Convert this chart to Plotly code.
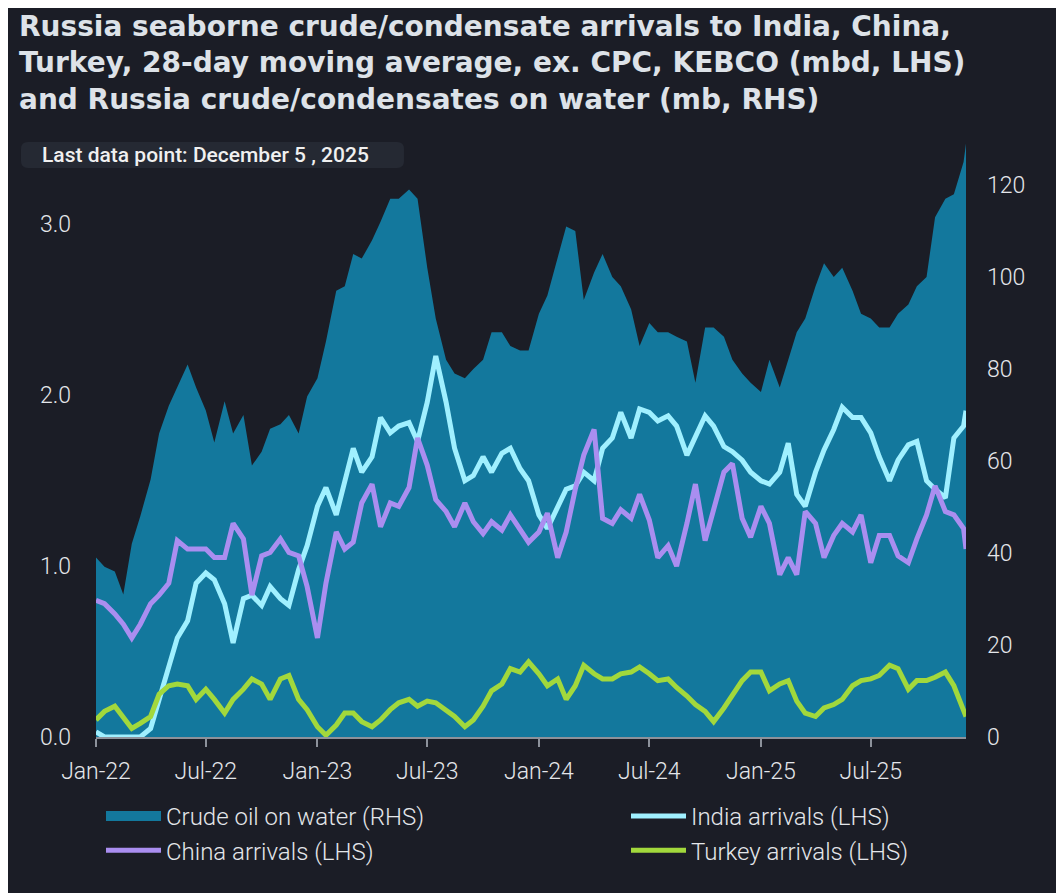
import pandas as pd
import plotly.graph_objects as go

# semi-monthly sampling (1st and 15th) up to the last data point
dates = list(pd.date_range("2022-01-01", "2025-12-01", freq="SMS").strftime("%Y-%m-%d")) + ["2025-12-05"]

# Russia crude/condensates on water, mb (RHS)
crude_on_water = (
    [39, 37, 36, 31, 42, 48, 56, 66, 72, 76, 81, 76, 71, 64, 73, 66, 70, 59, 62, 67, 68, 70, 66, 74]
    + [78, 86, 97, 98, 105, 104, 108, 112, 117, 117, 119, 117, 102, 91, 82, 79, 78, 80, 82, 88, 88, 85, 84, 84]
    + [92, 96, 104, 111, 110, 95, 101, 105, 100, 98, 93, 85, 90, 88, 88, 87, 86, 77, 89, 89, 87, 82, 79, 77]
    + [75, 82, 76, 82, 88, 91, 98, 103, 100, 102, 97, 92, 91, 89, 89, 92, 94, 98, 100, 113, 117, 118, 125, 129]
)

# arrivals, mbd (LHS)
india = (
    [0.03, 0.0, 0.0, 0.0, 0.0, 0.0, 0.05, 0.22, 0.40, 0.58, 0.68, 0.90, 0.96, 0.92, 0.78, 0.55, 0.81, 0.83, 0.77, 0.88, 0.81, 0.77, 0.98, 1.12]
    + [1.35, 1.46, 1.30, 1.50, 1.69, 1.55, 1.64, 1.87, 1.78, 1.82, 1.84, 1.73, 1.96, 2.23, 1.96, 1.69, 1.50, 1.53, 1.64, 1.55, 1.66, 1.69, 1.57, 1.50]
    + [1.30, 1.22, 1.35, 1.45, 1.47, 1.55, 1.50, 1.69, 1.75, 1.90, 1.75, 1.92, 1.90, 1.85, 1.88, 1.82, 1.65, 1.75, 1.88, 1.82, 1.70, 1.67, 1.62, 1.55]
    + [1.50, 1.48, 1.55, 1.72, 1.42, 1.35, 1.55, 1.68, 1.80, 1.93, 1.87, 1.87, 1.78, 1.64, 1.50, 1.62, 1.71, 1.73, 1.50, 1.45, 1.40, 1.75, 1.82, 1.91]
)
china = (
    [0.80, 0.78, 0.72, 0.66, 0.58, 0.66, 0.78, 0.83, 0.90, 1.15, 1.10, 1.10, 1.10, 1.05, 1.05, 1.25, 1.16, 0.83, 1.06, 1.08, 1.16, 1.08, 1.06, 0.88]
    + [0.58, 0.90, 1.20, 1.10, 1.14, 1.37, 1.48, 1.23, 1.37, 1.35, 1.46, 1.75, 1.59, 1.39, 1.32, 1.23, 1.37, 1.26, 1.19, 1.26, 1.21, 1.30, 1.21, 1.14]
    + [1.20, 1.31, 1.05, 1.20, 1.45, 1.65, 1.80, 1.28, 1.25, 1.33, 1.28, 1.42, 1.27, 1.05, 1.12, 1.00, 1.25, 1.48, 1.15, 1.33, 1.55, 1.60, 1.28, 1.17]
    + [1.35, 1.25, 0.95, 1.05, 0.95, 1.32, 1.25, 1.05, 1.18, 1.25, 1.20, 1.30, 1.02, 1.18, 1.18, 1.06, 1.02, 1.16, 1.30, 1.47, 1.32, 1.30, 1.22, 1.10]
)
turkey = (
    [0.10, 0.15, 0.18, 0.12, 0.05, 0.08, 0.12, 0.25, 0.30, 0.31, 0.30, 0.22, 0.28, 0.22, 0.14, 0.22, 0.28, 0.34, 0.31, 0.22, 0.34, 0.36, 0.22, 0.16]
    + [0.06, 0.01, 0.07, 0.14, 0.14, 0.09, 0.06, 0.10, 0.16, 0.20, 0.22, 0.18, 0.21, 0.20, 0.16, 0.12, 0.06, 0.10, 0.18, 0.27, 0.31, 0.40, 0.38, 0.44]
    + [0.37, 0.30, 0.34, 0.22, 0.30, 0.42, 0.37, 0.34, 0.34, 0.37, 0.38, 0.41, 0.37, 0.33, 0.34, 0.29, 0.24, 0.19, 0.15, 0.09, 0.17, 0.25, 0.33, 0.38]
    + [0.38, 0.27, 0.31, 0.33, 0.21, 0.14, 0.12, 0.17, 0.19, 0.22, 0.30, 0.33, 0.34, 0.36, 0.42, 0.40, 0.28, 0.33, 0.33, 0.35, 0.38, 0.30, 0.16, 0.12]
)

title_lines = [
    "Russia seaborne crude/condensate arrivals to India, China,",
    "Turkey, 28-day moving average, ex. CPC, KEBCO (mbd, LHS)",
    "and Russia crude/condensates on water (mb, RHS)",
]
last_point_text = "Last data point: December 5 , 2025"

BG = "#1b1d26"
TEAL = "#13789d"
INDIA_C = "#a0f0ff"
CHINA_C = "#aa8ef0"
TURKEY_C = "#a2d83c"
TXT = "#e4e6ea"
AXIS_C = "#8d929b"

W, H = 1064, 893
# the page adds an 8px body margin, so figure px = page px - 8
L, R, T, B = 88, 106, 131, 164
PW, PH = W - L - R, H - T - B
PAGE_LEFT, PAGE_BOTTOM = L + 8, H - B + 8


def px_x(px):
    # page pixel -> paper x
    return (px - PAGE_LEFT) / PW


def px_y(py):
    # page pixel -> paper y
    return (PAGE_BOTTOM - py) / PH


def rounded_rect(x0, y0, x1, y1, r):
    def p(x, y):
        return f"{px_x(x):.5f},{px_y(y):.5f}"
    return (
        f"M{p(x0 + r, y0)} L{p(x1 - r, y0)} Q{p(x1, y0)} {p(x1, y0 + r)} "
        f"L{p(x1, y1 - r)} Q{p(x1, y1)} {p(x1 - r, y1)} "
        f"L{p(x0 + r, y1)} Q{p(x0, y1)} {p(x0, y1 - r)} "
        f"L{p(x0, y0 + r)} Q{p(x0, y0)} {p(x0 + r, y0)} Z"
    )


tick_font = dict(family="Roboto", size=23, color=TXT, weight=300)

fig = go.Figure()

# area on the primary (right) axis so the lines overlay it
fig.add_trace(go.Scatter(
    x=dates, y=crude_on_water, mode="lines", fill="tozeroy",
    line=dict(width=0, color=TEAL), fillcolor=TEAL,
    yaxis="y", showlegend=False, hoverinfo="skip",
))
# legend swatch for the area
fig.add_trace(go.Scatter(
    x=[None], y=[None], mode="lines", line=dict(width=16, color=TEAL),
    name="Crude oil on water (RHS)", legend="legend", legendgroup="crude",
))
fig.add_trace(go.Scatter(
    x=dates, y=india, mode="lines", line=dict(width=5, color=INDIA_C),
    name="India arrivals (LHS)", yaxis="y2", legend="legend2", legendgroup="india",
))
fig.add_trace(go.Scatter(
    x=dates, y=china, mode="lines", line=dict(width=5, color=CHINA_C),
    name="China arrivals (LHS)", yaxis="y2", legend="legend", legendgroup="china",
))
fig.add_trace(go.Scatter(
    x=dates, y=turkey, mode="lines", line=dict(width=5, color=TURKEY_C),
    name="Turkey arrivals (LHS)", yaxis="y2", legend="legend2", legendgroup="turkey",
))

legend_style = dict(
    xanchor="left", yanchor="top", orientation="v", itemwidth=55,
    font=dict(family="Roboto", size=24, color=TXT, weight=300),
    bgcolor="rgba(0,0,0,0)", traceorder="grouped", tracegroupgap=0,
)

fig.update_layout(
    width=W, height=H, autosize=False,
    margin=dict(l=L, r=R, t=T, b=B),
    paper_bgcolor=BG, plot_bgcolor=BG,
    title=dict(
        text="<b>" + "<br>".join(title_lines) + "</b>",
        xref="container", yref="container",
        x=(19 - 8) / W, xanchor="left",
        y=1 - (36 - 8) / H, yanchor="middle",
        font=dict(family="DejaVu Sans", size=28, color="#dde2e8"),
    ),
    showlegend=True,
    legend=dict(x=px_x(101), y=px_y(794), **legend_style),
    legend2=dict(x=px_x(626), y=px_y(794), **legend_style),
    xaxis=dict(
        type="date", range=["2022-01-01", "2025-12-05"],
        tick0="2022-01-01", dtick="M6", tickformat="%b-%y",
        showgrid=False, zeroline=False,
        showline=True, linecolor=AXIS_C, linewidth=2,
        ticks="outside", ticklen=8, tickwidth=1.5, tickcolor=AXIS_C,
        tickfont=tick_font, ticklabelstandoff=4,
    ),
    yaxis=dict(
        side="right", range=[0, 130], dtick=20,
        showgrid=False, zeroline=False, showline=False,
        tickfont=tick_font, ticklabelstandoff=20,
    ),
    yaxis2=dict(
        side="left", overlaying="y", range=[0, 3.5], dtick=1, tickformat=".1f",
        showgrid=False, zeroline=False, showline=False,
        tickfont=tick_font, ticklabelstandoff=24,
    ),
)

# "last data point" badge
fig.add_shape(
    type="path", xref="paper", yref="paper",
    path=rounded_rect(21, 142, 404, 168, 7),
    fillcolor="#252933", line=dict(width=0), layer="above",
)
fig.add_annotation(
    text=last_point_text, xref="paper", yref="paper",
    x=px_x(40), y=px_y(155), xanchor="left", yanchor="middle", showarrow=False,
    font=dict(family="Roboto", size=21, color="#f0f0f0", weight=500),
)

fig.write_html("out.html")
